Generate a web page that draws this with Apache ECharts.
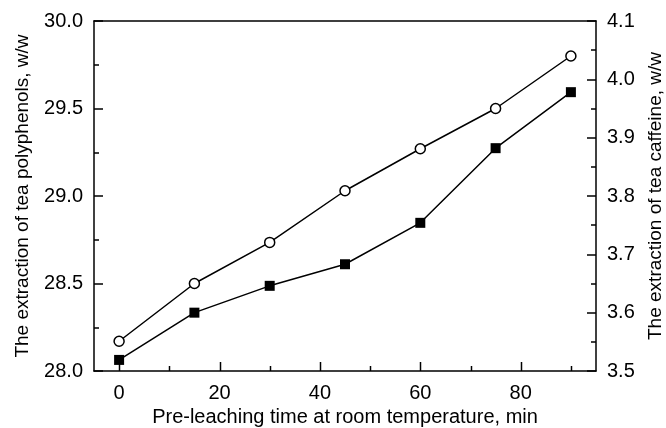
<!DOCTYPE html>
<html>
<head>
<meta charset="utf-8">
<script src="https://cdn.jsdelivr.net/npm/echarts@6/dist/echarts.min.js"></script>
<style>html,body{margin:0;padding:0;background:#fff}#c{width:666px;height:428px}</style>
</head>
<body>
<div id="c"></div>
<script>
const times = [0, 15, 30, 45, 60, 75, 90];
const polyphenols = [28.17, 28.50, 28.735, 29.03, 29.27, 29.50, 29.80];
const caffeine = [3.519, 3.600, 3.646, 3.683, 3.754, 3.882, 3.978];
const xMajorTicks = [0, 20, 40, 60, 80];
const xMinorTicks = [10, 30, 50, 70, 90];

const FONT = 'Liberation Sans';
const FS = 20;
const FSY = 19;
const chart = echarts.init(document.getElementById('c'));
const ls = () => ({color: '#000', width: 1.5});
chart.setOption({
  animation: false,
  grid: {left: 94, right: 70, top: 21, bottom: 57, containLabel: false, outerBoundsMode: 'none'},
  xAxis: [{
    type: 'value', min: -5, max: 95, position: 'bottom',
    name: 'Pre-leaching time at room temperature, min', nameLocation: 'middle', nameGap: 33,
    nameTextStyle: {fontFamily: FONT, fontSize: FS, color: '#000'},
    axisLine: {show: true, onZero: false, lineStyle: ls()},
    axisTick: {show: false},
    axisLabel: {fontFamily: FONT, fontSize: FS, color: '#000', margin: 12, customValues: xMajorTicks},
    splitLine: {show: false}
  }, {
    type: 'value', min: -5, max: 95, position: 'top',
    axisLine: {show: true, onZero: false, lineStyle: ls()},
    axisTick: {show: false}, axisLabel: {show: false}, splitLine: {show: false}
  }],
  yAxis: [{
    type: 'value', min: 28, max: 30, interval: 0.5, position: 'left',
    name: 'The extraction of tea polyphenols, w/w', nameLocation: 'middle', nameGap: 62, nameRotate: 90,
    nameTextStyle: {fontFamily: FONT, fontSize: FSY, color: '#000'},
    axisLine: {show: true, onZero: false, lineStyle: ls()},
    axisTick: {show: true, inside: true, length: 9, lineStyle: ls()},
    minorTick: {show: true, splitNumber: 2, length: 5, lineStyle: ls()},
    axisLabel: {fontFamily: FONT, fontSize: FS, color: '#000', margin: 11, formatter: v => v.toFixed(1)},
    splitLine: {show: false}, minorSplitLine: {show: false}
  }, {
    type: 'value', min: 3.5, max: 4.1, interval: 0.1, position: 'right',
    name: 'The extraction of tea caffeine, w/w', nameLocation: 'middle', nameGap: 50, nameRotate: 90,
    nameTextStyle: {fontFamily: FONT, fontSize: FSY, color: '#000'},
    axisLine: {show: true, onZero: false, lineStyle: ls()},
    axisTick: {show: true, inside: true, length: 9, lineStyle: ls()},
    minorTick: {show: true, splitNumber: 2, length: 5, lineStyle: ls()},
    axisLabel: {fontFamily: FONT, fontSize: FS, color: '#000', margin: 11, formatter: v => v.toFixed(1)},
    splitLine: {show: false}, minorSplitLine: {show: false}
  }],
  series: [{
    type: 'line', xAxisIndex: 0, yAxisIndex: 0,
    data: times.map((t, i) => [t, polyphenols[i]]),
    symbol: 'circle', symbolSize: 10, showAllSymbol: true,
    lineStyle: ls(),
    itemStyle: {color: '#fff', borderColor: '#000', borderWidth: 1.5}
  }, {
    type: 'line', xAxisIndex: 0, yAxisIndex: 1,
    data: times.map((t, i) => [t, caffeine[i]]),
    symbol: 'rect', symbolSize: 10, showAllSymbol: true,
    lineStyle: ls(),
    itemStyle: {color: '#000', borderColor: '#000', borderWidth: 0}
  }]
});

// inward-pointing x-axis ticks, positioned through the chart's own x scale
const yBase = chart.convertToPixel({yAxisIndex: 0}, 28);
const tick = (v, len) => {
  const x = Math.round(chart.convertToPixel({xAxisIndex: 0}, v)) + 0.5;
  return {type: 'line', silent: true, z: 10,
          shape: {x1: x, y1: yBase, x2: x, y2: yBase - len},
          style: {stroke: '#000', lineWidth: 1.5}};
};
chart.setOption({
  graphic: xMajorTicks.map(v => tick(v, 9)).concat(xMinorTicks.map(v => tick(v, 5)))
});
</script>
</body>
</html>
